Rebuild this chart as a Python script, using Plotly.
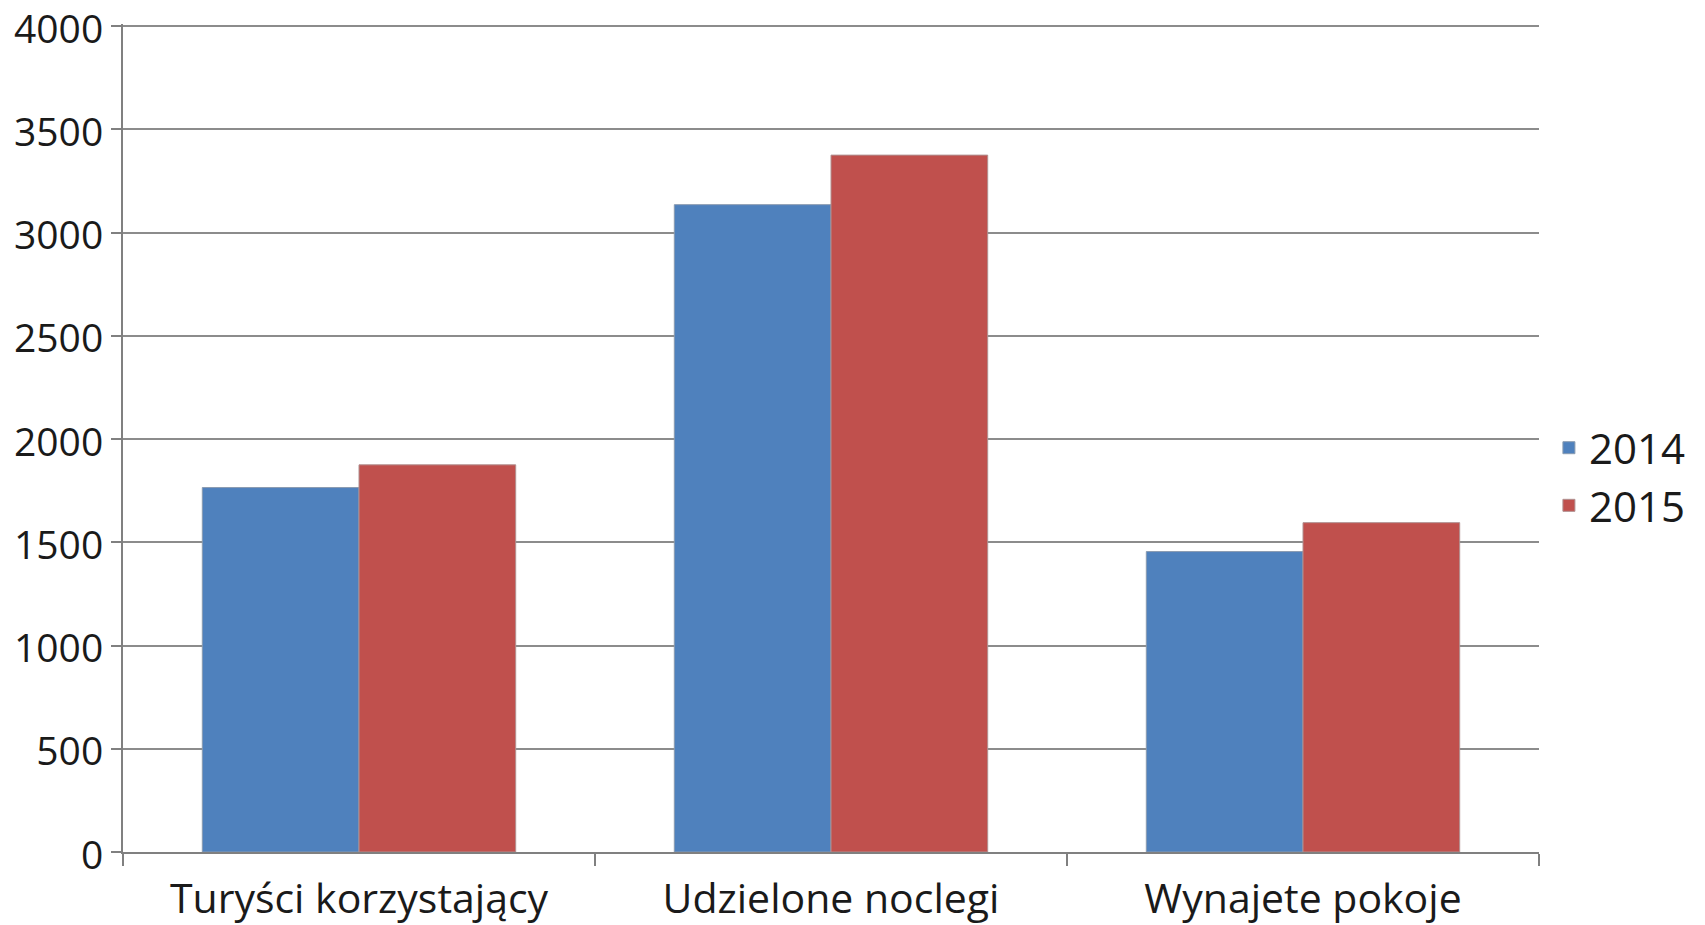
import plotly.graph_objects as go

categories = ["Turyści korzystający", "Udzielone noclegi", "Wynajete pokoje"]
values_2014 = [1765, 3135, 1455]
values_2015 = [1875, 3375, 1595]
series_names = ["2014", "2015"]
y_ticks = [0, 500, 1000, 1500, 2000, 2500, 3000, 3500, 4000]

FONT = "Open Sans"

fig = go.Figure()
fig.add_trace(go.Bar(x=categories, y=values_2014, name=series_names[0],
                     marker=dict(color="#4F81BD", line=dict(color="#8a9bb0", width=1))))
fig.add_trace(go.Bar(x=categories, y=values_2015, name=series_names[1],
                     marker=dict(color="#C0504D", line=dict(color="#b09090", width=1))))

# page body has an 8px default margin, so the figure is sized to the visible area
fig.update_layout(
    width=1697, height=917,
    margin=dict(l=115, r=166, t=16, b=73, autoexpand=False),
    paper_bgcolor="white", plot_bgcolor="white",
    barmode="group", bargap=0.336, bargroupgap=0,
    font=dict(family=FONT, size=40, color="#1a1a1a"),
    showlegend=True,
    legend=dict(x=1.007, y=0.453, xanchor="left", yanchor="middle",
                font=dict(family=FONT, size=42, color="#1a1a1a"),
                itemwidth=30, tracegroupgap=0, bgcolor="rgba(0,0,0,0)"),
)
fig.update_xaxes(
    automargin=False,
    showline=True, linecolor="#808080", linewidth=2,
    ticks="outside", tickson="boundaries", ticklen=12, tickcolor="#808080", tickwidth=2,
    showgrid=False, tickfont=dict(family=FONT, size=41), ticklabelstandoff=10,
    ticklabeloverflow="allow",
)
fig.update_yaxes(
    automargin=False,
    range=[0, 4010], tickvals=y_ticks, ticktext=[str(v) for v in y_ticks],
    showline=True, linecolor="#808080", linewidth=2,
    ticks="outside", ticklen=10, tickcolor="#808080", tickwidth=2,
    showgrid=True, gridcolor="#8c8c8c", gridwidth=2,
    zeroline=False, tickfont=dict(family=FONT, size=39), ticklabelshift=3,
    ticklabeloverflow="allow",
)

fig.write_html("out.html")
